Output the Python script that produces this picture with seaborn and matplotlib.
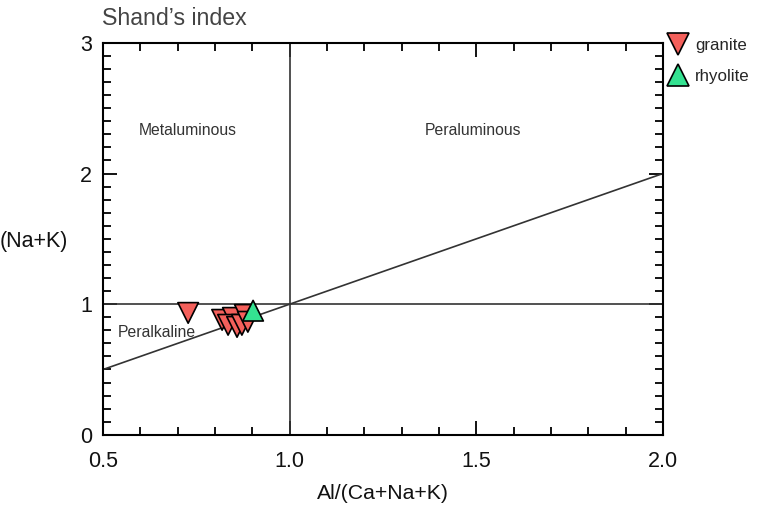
import pandas as pd
import numpy as np
import matplotlib
matplotlib.use('Agg')
import matplotlib.pyplot as plt
import seaborn as sns
from matplotlib.ticker import MultipleLocator

# data
granite_x = [0.728, 0.819, 0.848, 0.880, 0.835, 0.859, 0.872, 0.888]
granite_y = [0.933, 0.880, 0.895, 0.918, 0.842, 0.826, 0.842, 0.865]
rhyolite_x = [0.902]
rhyolite_y = [0.950]

rock = ['granite'] * len(granite_x) + ['rhyolite'] * len(rhyolite_x)
df = pd.DataFrame({'acnk': granite_x + rhyolite_x,
                   'ank': granite_y + rhyolite_y,
                   'rock': rock})

sns.set_style('ticks')
plt.rcParams['font.family'] = ['Liberation Sans', 'DejaVu Sans']

fig = plt.figure(figsize=(7.69, 5.05), dpi=100)
ax = fig.add_axes([0.134, 0.139, 0.728, 0.776])

# boundary lines
ax.axvline(1.0, color='#333333', lw=1.2, zorder=1)
ax.axhline(1.0, color='#333333', lw=1.2, zorder=1)
ax.plot([0.5, 2.0], [0.5, 2.0], color='#333333', lw=1.2, zorder=1)

sns.scatterplot(data=df, x='acnk', y='ank', hue='rock', style='rock',
                palette={'granite': '#f4605b', 'rhyolite': '#34e291'},
                markers={'granite': 'v', 'rhyolite': '^'},
                s=220, edgecolor='black', linewidth=1.2, ax=ax, zorder=3)

ax.text(0.728, 2.33, 'Metaluminous', ha='center', va='center', fontsize=11.3, color='#333333')
ax.text(1.49, 2.33, 'Peraluminous', ha='center', va='center', fontsize=11.3, color='#333333')
ax.text(0.645, 0.78, 'Peralkaline', ha='center', va='center', fontsize=11.3, color='#333333')

ax.set_xlim(0.5, 2.0)
ax.set_ylim(0, 3)
ax.xaxis.set_major_locator(MultipleLocator(0.5))
ax.xaxis.set_minor_locator(MultipleLocator(0.1))
ax.yaxis.set_major_locator(MultipleLocator(1))
ax.yaxis.set_minor_locator(MultipleLocator(0.1))
ax.set_xticklabels([f'{v:.1f}' for v in ax.get_xticks()])
ax.tick_params(which='both', direction='in', top=True, right=True, width=1.3, color='black')
ax.tick_params(which='major', length=10, labelsize=15.5, labelcolor='#111111')
ax.tick_params(axis='x', which='major', pad=12)
ax.tick_params(axis='y', which='major', pad=8)
ax.tick_params(which='minor', length=6)
for s in ax.spines.values():
    s.set_linewidth(1.5)
    s.set_color('black')

ax.set_xlabel('Al/(Ca+Na+K)', fontsize=15.3, labelpad=8, color='#111111')
ax.set_ylabel('')
fig.text(0.0, 0.521, '(Na+K)', fontsize=15.5, ha='left', va='center', color='#111111')
fig.text(0.133, 0.964, "Shand\u2019s index", fontsize=16.7, color='#444444', ha='left', va='center')

ax.legend(loc='upper left', bbox_to_anchor=(0.985, 1.03), frameon=False,
          fontsize=12.2, handletextpad=0.0, markerscale=1.1, labelspacing=0.95, borderaxespad=0)

fig.savefig('out.png', dpi=100)
